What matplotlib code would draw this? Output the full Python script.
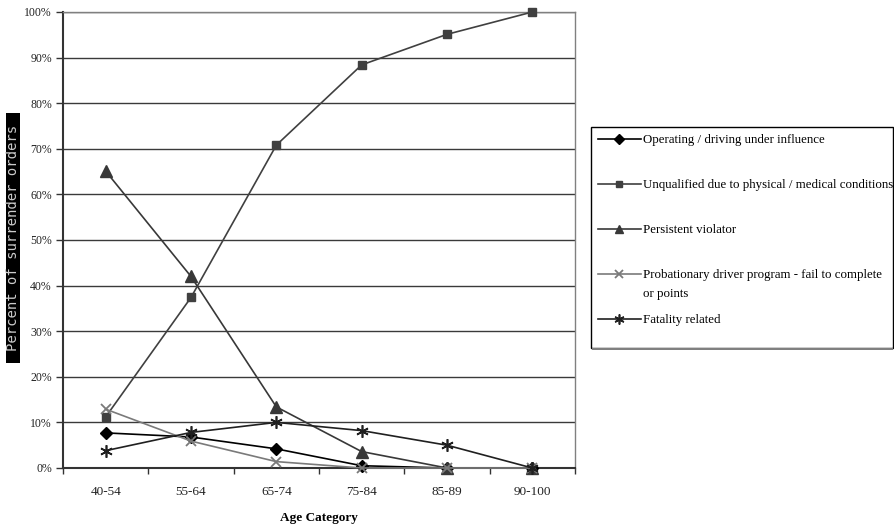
import matplotlib
matplotlib.use("Agg")
import matplotlib.pyplot as plt
import numpy as np
from matplotlib.ticker import FixedLocator, PercentFormatter
from matplotlib.patches import Rectangle

categories = ["40-54", "55-64", "65-74", "75-84", "85-89", "90-100"]
operating = [7.7, 6.8, 4.2, 0.5, 0.0, 0.0]
unqualified = [11.2, 37.4, 70.8, 88.4, 95.1, 100.0]
persistent = [65.1, 42.0, 13.4, 3.6, 0.0, 0.0]
probationary = [12.9, 5.9, 1.4, 0.0, 0.0, 0.0]
fatality = [3.8, 7.8, 10.0, 8.2, 5.0, 0.0]

labels = [
    "Operating / driving under influence",
    "Unqualified due to physical / medical conditions",
    "Persistent violator",
    "Probationary driver program - fail to complete",
    "Fatality related",
]

plt.rcParams["font.family"] = ["Liberation Serif", "DejaVu Serif"]

W, H = 895, 529
fig = plt.figure(figsize=(W / 100, H / 100), dpi=100)
ax = fig.add_axes([63 / W, 1 - 468 / H, (575 - 63) / W, (468 - 12) / H])

x = np.arange(len(categories))
styles = [
    dict(color="#000000", marker="D", markersize=6.5),
    dict(color="#404040", marker="s", markersize=6),
    dict(color="#383838", marker="^", markersize=8),
    dict(color="#7a7a7a", marker="x", markersize=7, markeredgewidth=1.3),
    dict(color="#202020", marker=(6, 2, 0), markersize=9, markeredgewidth=1.2),
]
series = [operating, unqualified, persistent, probationary, fatality]
handles = []
for vals, lab, st in zip(series, labels, styles):
    (h,) = ax.plot(x, vals, lw=1.2, label=lab, clip_on=False, zorder=3, **st)
    handles.append(h)

ax.set_xlim(-0.5, len(categories) - 0.5)
ax.set_ylim(0, 100)
ax.yaxis.set_major_locator(FixedLocator(np.arange(0, 101, 10)))
ax.yaxis.set_major_formatter(PercentFormatter(decimals=0))
ax.set_xticks(x)
ax.set_xticklabels(categories)
ax.xaxis.set_minor_locator(FixedLocator(np.arange(-0.5, len(categories), 1.0)))
ax.tick_params(axis="x", which="major", length=0, pad=13, labelsize=9.5, colors="#222222")
ax.tick_params(axis="x", which="minor", length=4, width=1, color="#333333", direction="out")
ax.tick_params(axis="y", length=5, width=1, color="#333333", labelsize=8.5, pad=3, labelcolor="#222222")

ax.grid(axis="y", color="#3a3a3a", lw=1.0, zorder=0)
ax.set_axisbelow(True)
for s in ["left", "bottom"]:
    ax.spines[s].set_color("#333333")
    ax.spines[s].set_linewidth(1.5)
for s in ["top", "right"]:
    ax.spines[s].set_color("#808080")
    ax.spines[s].set_linewidth(1.0)

ax.set_xlabel("Age Category", fontsize=9.5, fontweight="bold", labelpad=10)

fig.add_artist(Rectangle((6 / W, 1 - 363 / H), 14 / W, 250 / H, transform=fig.transFigure,
                         facecolor="black", edgecolor="none", zorder=1))
fig.text(13 / W, 1 - 238 / H, "Percent of surrender orders", rotation=90,
         ha="center", va="center", color="#cccccc", fontsize=10,
         family="DejaVu Sans Mono", zorder=2)

# legend frame (drawn separately to match the box size)
fig.add_artist(Rectangle((591 / W, 1 - 348 / H), (893 - 591) / W, (348 - 127) / H,
                         transform=fig.transFigure, facecolor="white",
                         edgecolor="#000000", lw=1.0, zorder=4))
fig.add_artist(Rectangle((592 / W, 1 - 349.5 / H), (893 - 592) / W, 1.5 / H,
                         transform=fig.transFigure, facecolor="#808080",
                         edgecolor="none", zorder=4))

leg = fig.legend(handles=handles, labels=labels, loc="upper left",
                 bbox_to_anchor=(591 / W, 1 - 127 / H),
                 bbox_transform=fig.transFigure,
                 fontsize=9.3, frameon=False,
                 handlelength=3.3, handletextpad=0.2, labelspacing=2.55,
                 borderpad=0.55, borderaxespad=0, markerscale=0.8)
leg.set_zorder(5)

fig.canvas.draw()
t = leg.get_texts()[3]
bb = t.get_window_extent()
fig.text(bb.x0 / W, (bb.y0 - 19) / H, "or points", fontsize=9.3, ha="left", va="bottom",
         zorder=10)

fig.savefig("out.png", dpi=100)
